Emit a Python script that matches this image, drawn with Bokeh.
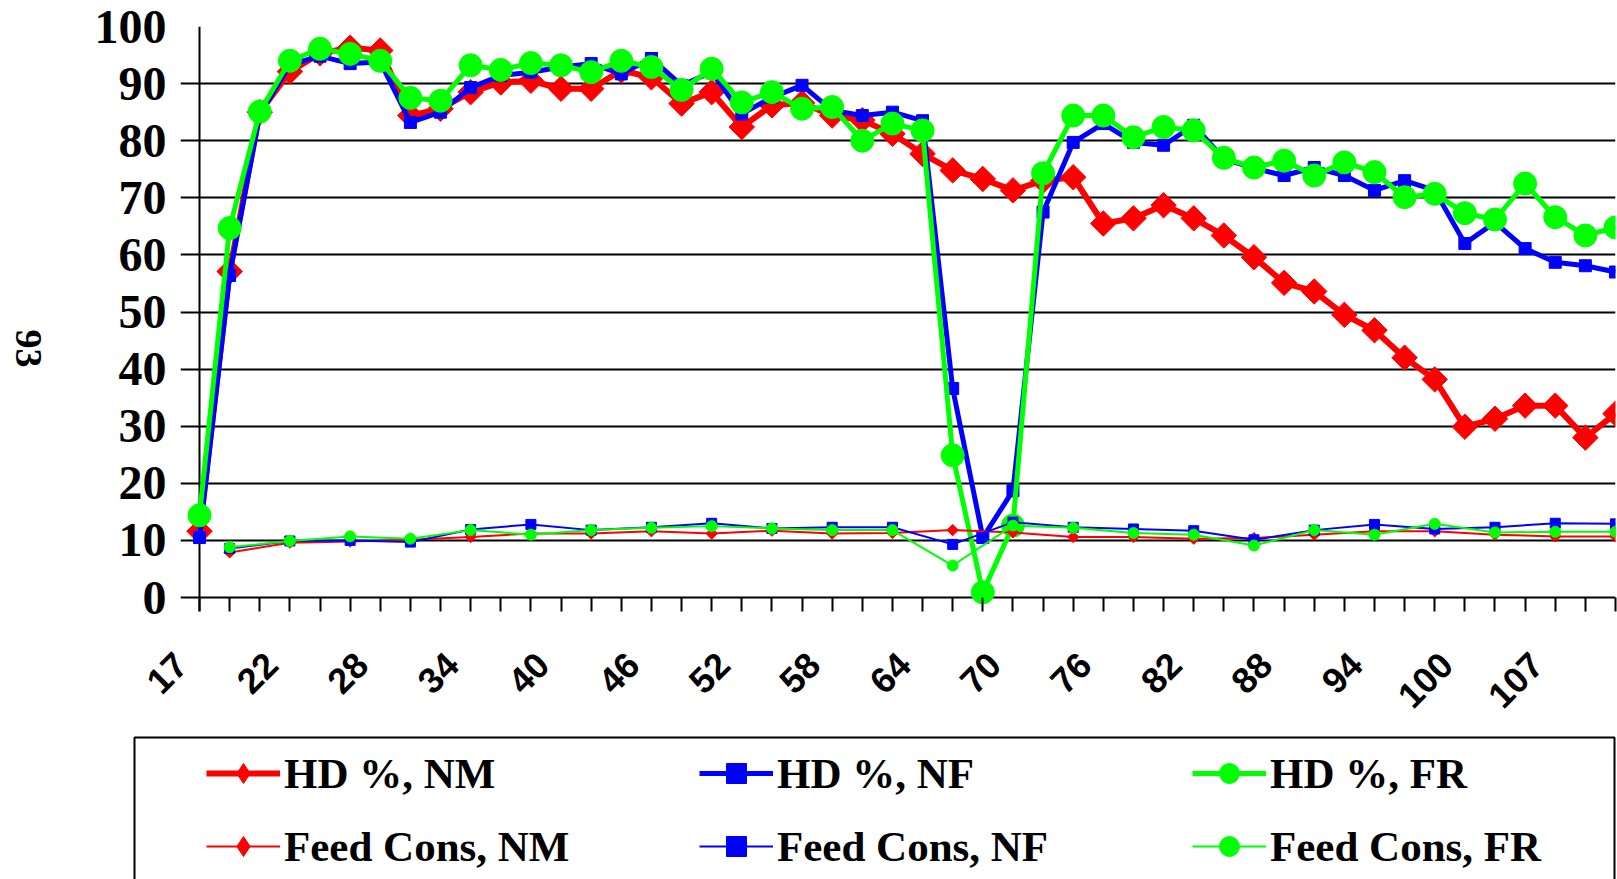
import numpy as np
from bokeh.plotting import figure
from bokeh.layouts import column, row
from bokeh.models import (FixedTicker, Legend, LegendItem, Span, LinearAxis, Label,
                          Range1d, ColumnDataSource, BoxAnnotation)
from bokeh.embed import file_html
from bokeh.resources import INLINE

# ---------------- data ----------------
weeks = [17, 18, 20, 22, 24, 26, 28, 30, 32, 34, 36, 38, 40, 42, 44, 46, 48, 50,
         52, 54, 56, 58, 60, 62, 64, 66, 68, 70, 72, 74, 76, 78, 80, 82, 84, 86,
         88, 90, 92, 94, 96, 98, 100, 102, 105, 107, 109, 111]
label_weeks = [17, 22, 28, 34, 40, 46, 52, 58, 64, 70, 76, 82, 88, 94, 100, 107]
y_ticks = [0, 10, 20, 30, 40, 50, 60, 70, 80, 90, 100]

hd_nm = [11.6, 57.1, 85.0, 92.1, 95.3, 96.3, 95.8, 84.4, 85.6, 88.5, 90.2, 90.5,
         89.1, 89.1, 92.3, 91.1, 86.5, 88.5, 82.4, 86.2, 86.6, 84.4, 83.6, 81.2,
         77.7, 74.8, 73.3, 71.3, 73.0, 73.6, 65.5, 66.4, 68.7, 66.4, 63.4, 59.6,
         55.1, 53.6, 49.5, 46.8, 42.0, 38.2, 29.9, 31.3, 33.6, 33.6, 28.0, 32.2]
hd_nf = [10.5, 56.4, 84.5, 93.3, 94.8, 93.5, 93.8, 83.2, 85.0, 89.3, 91.4, 92.0,
         92.9, 93.5, 91.7, 94.4, 89.7, 92.0, 84.7, 87.6, 89.7, 85.3, 84.4, 85.0,
         83.5, 36.6, 10.5, 18.7, 67.5, 79.7, 83.0, 79.7, 79.2, 82.7, 76.8, 75.2,
         73.9, 75.3, 73.9, 71.3, 73.0, 71.3, 62.0, 65.7, 61.1, 58.7, 58.1, 57.0]
hd_fr = [14.4, 64.7, 85.1, 94.0, 96.1, 95.2, 94.0, 87.5, 87.0, 93.2, 92.4, 93.6,
         93.2, 92.0, 94.0, 92.9, 88.9, 92.6, 86.7, 88.5, 85.6, 85.9, 80.0, 83.0,
         81.8, 24.9, 0.9, 12.6, 74.3, 84.4, 84.4, 80.6, 82.4, 81.8, 77.0, 75.3,
         76.5, 73.9, 76.2, 74.5, 70.1, 70.7, 67.3, 66.2, 72.5, 66.6, 63.4, 64.8]

# feed consumption recorded every second point (weeks 18, 22, 26, ...)
fc_weeks = [18, 22, 26, 30, 34, 38, 42, 46, 50, 54, 58, 62, 66, 70, 74, 78,
            82, 86, 90, 94, 98, 102, 107, 111]
fc_nm = [7.9, 9.6, 9.8, 10.1, 10.6, 11.2, 11.2, 11.6, 11.2, 11.7, 11.2, 11.3,
         11.8, 11.4, 10.6, 10.6, 10.3, 10.4, 11.0, 11.6, 11.6, 11.0, 10.7, 10.7]
fc_nf = [8.6, 9.9, 10.0, 9.7, 11.9, 12.8, 11.8, 12.3, 13.0, 12.1, 12.3, 12.3,
         9.3, 13.2, 12.3, 12.0, 11.7, 10.1, 11.8, 12.8, 12.0, 12.3, 13.0, 12.9]
fc_fr = [8.8, 9.9, 10.7, 10.3, 11.8, 11.0, 11.8, 12.2, 12.5, 12.1, 11.8, 11.8,
         5.6, 12.6, 12.2, 11.3, 11.0, 9.1, 11.8, 11.0, 12.9, 11.4, 11.5, 11.5]

side_caption = "93"

idx = list(range(len(weeks)))
fc_idx = [weeks.index(w) for w in fc_weeks]
label_idx = [weeks.index(w) for w in label_weeks]

RED, BLUE, GREEN = "#FF0000", "#0000FF", "#00FF00"
SERIF = "Liberation Serif"
SANS = "Liberation Sans"

# ---------------- layout constants (pixels) ----------------
W, H = 1617, 879
SIDE_W = 60                      # strip holding the rotated side caption
MAIN_W = W - SIDE_W
H1 = 735
H2 = H - H1
FRAME_LEFT, AXIS_X, PLOT_RIGHT = 120, 139, 1555   # inside the main chart
TOP, ZERO_Y, FRAME_BOTTOM = 26, 597, 611

n_last = len(weeks) - 1
kx = (PLOT_RIGHT - AXIS_X) / n_last
x_start = -(AXIS_X - FRAME_LEFT) / kx
ky = (ZERO_Y - TOP) / 100.0
y_start = -(FRAME_BOTTOM - ZERO_Y) / ky

hd_src = ColumnDataSource(dict(x=idx, nm=hd_nm, nf=hd_nf, fr=hd_fr))
fc_src = ColumnDataSource(dict(x=fc_idx, nm=fc_nm, nf=fc_nf, fr=fc_fr))

# ======================= side caption strip =======================
s = figure(width=SIDE_W, height=H, title=None, x_range=Range1d(0, SIDE_W),
           y_range=Range1d(0, H), output_backend="svg", toolbar_location=None,
           x_axis_location=None, y_axis_location=None, min_border=0)
if "frame_align" in s.properties():
    s.frame_align = False
s.outline_line_color = None
s.xgrid.visible = False
s.ygrid.visible = False
s.add_layout(Label(x=28, y=H - 348, text=side_caption, angle=-np.pi / 2,
                   text_align="center", text_baseline="middle",
                   text_font=SERIF, text_font_style="bold", text_font_size="38px",
                   text_color="black"))

# ======================= chart =======================
p = figure(width=MAIN_W, height=H1, title=None,
           x_range=Range1d(x_start, n_last), y_range=Range1d(y_start, 100),
           output_backend="svg", toolbar_location=None,
           min_border_left=FRAME_LEFT, min_border_right=MAIN_W - PLOT_RIGHT,
           min_border_top=TOP, min_border_bottom=H1 - FRAME_BOTTOM)
p.outline_line_color = None

# rotated tick labels end a little left of their tick: shifted label scale
LABEL_SHIFT = 0.62
p.extra_x_ranges = {"labels": Range1d(x_start + LABEL_SHIFT, n_last + LABEL_SHIFT)}

xa = p.xaxis[0]
xa.ticker = FixedTicker(ticks=idx)
xa.major_label_overrides = {i: "" for i in idx}
xa.major_label_standoff = 0
xa.major_tick_out = 0
xa.major_tick_in = 14
xa.major_tick_line_width = 2
xa.major_tick_line_color = "black"
xa.minor_tick_line_color = None
xa.axis_line_color = None

xl = LinearAxis(x_range_name="labels", ticker=FixedTicker(ticks=label_idx),
                major_label_overrides={i: str(weeks[i]) for i in label_idx},
                major_label_orientation=np.pi / 4,
                major_label_text_font=SANS, major_label_text_font_style="bold",
                major_label_text_font_size="36px", major_label_text_color="black",
                major_label_standoff=47, major_tick_out=0, major_tick_in=0,
                major_tick_line_color=None, minor_tick_line_color=None,
                axis_line_color=None)
p.add_layout(xl, "below")

ya = p.yaxis[0]
ya.ticker = FixedTicker(ticks=y_ticks)
ya.major_label_text_font = SERIF
ya.major_label_text_font_style = "bold"
ya.major_label_text_font_size = "48px"
ya.major_label_text_color = "black"
ya.major_label_standoff = 14
ya.major_tick_out = 0
ya.major_tick_in = 0
ya.major_tick_line_color = None
ya.minor_tick_line_color = None
ya.axis_line_color = None

p.xgrid.visible = False
p.ygrid.ticker = FixedTicker(ticks=y_ticks)
p.ygrid.grid_line_color = "black"
p.ygrid.grid_line_width = 2

p.add_layout(Span(location=0, dimension="height", line_color="black",
                  line_width=2, level="underlay"))

p.line("x", "nm", source=hd_src, line_color=RED, line_width=6)
p.scatter("x", "nm", source=hd_src, marker="square", angle=np.pi / 4, size=18,
          fill_color=RED, line_color=RED)
p.line("x", "nf", source=hd_src, line_color=BLUE, line_width=5)
p.scatter("x", "nf", source=hd_src, marker="square", size=12,
          fill_color=BLUE, line_color=BLUE)
p.line("x", "fr", source=hd_src, line_color=GREEN, line_width=5)
p.scatter("x", "fr", source=hd_src, marker="circle", size=23,
          fill_color=GREEN, line_color=GREEN)

p.line("x", "nm", source=fc_src, line_color=RED, line_width=2)
p.scatter("x", "nm", source=fc_src, marker="square", angle=np.pi / 4, size=8,
          fill_color=RED, line_color=RED)
p.line("x", "nf", source=fc_src, line_color=BLUE, line_width=2)
p.scatter("x", "nf", source=fc_src, marker="square", size=10,
          fill_color=BLUE, line_color=BLUE)
p.line("x", "fr", source=fc_src, line_color=GREEN, line_width=2)
p.scatter("x", "fr", source=fc_src, marker="circle", size=11,
          fill_color=GREEN, line_color=GREEN)

# ======================= legend strip =======================
q = figure(width=MAIN_W, height=H2, title=None, x_range=Range1d(0, MAIN_W),
           y_range=Range1d(0, H2), output_backend="svg", toolbar_location=None,
           x_axis_location=None, y_axis_location=None, min_border=0)
if "frame_align" in q.properties():
    q.frame_align = False
q.outline_line_color = None
q.xgrid.visible = False
q.ygrid.visible = False

def key(col, src, color, lw, marker, size):
    r_line = q.line("x", col, source=src, line_color=color, line_width=lw, visible=False)
    r_mark = q.scatter("x", col, source=src, marker=marker, size=size,
                       fill_color=color, line_color=color, visible=False)
    return [r_line, r_mark]

items = [
    LegendItem(label="HD %, NM", renderers=key("nm", hd_src, RED, 6, "diamond", 18)),
    LegendItem(label="HD %, NF", renderers=key("nf", hd_src, BLUE, 5, "square", 12)),
    LegendItem(label="HD %, FR", renderers=key("fr", hd_src, GREEN, 5, "circle", 23)),
    LegendItem(label="Feed Cons, NM", renderers=key("nm", fc_src, RED, 2, "diamond", 8)),
    LegendItem(label="Feed Cons, NF", renderers=key("nf", fc_src, BLUE, 2, "square", 10)),
    LegendItem(label="Feed Cons, FR", renderers=key("fr", fc_src, GREEN, 2, "circle", 11)),
]
legend = Legend(items=items, location=(196 - SIDE_W, -2), orientation="horizontal",
                ncols=3, glyph_width=74, glyph_height=50, label_height=50,
                label_width=392, label_standoff=4, spacing=23, padding=10, margin=0,
                label_text_font=SERIF, label_text_font_style="bold",
                label_text_font_size="43px", label_text_color="black",
                border_line_alpha=0, background_fill_alpha=0,
                inactive_fill_alpha=0)
q.add_layout(legend, "center")

q.add_layout(BoxAnnotation(left=134 - SIDE_W, right=1614 - SIDE_W, top=H2 - 2,
                           bottom=-20, fill_alpha=0, line_color="black",
                           line_width=2, line_alpha=1))

layout = row(s, column(p, q, spacing=0), spacing=0)
open("out.html", "w").write(file_html(layout, INLINE))
